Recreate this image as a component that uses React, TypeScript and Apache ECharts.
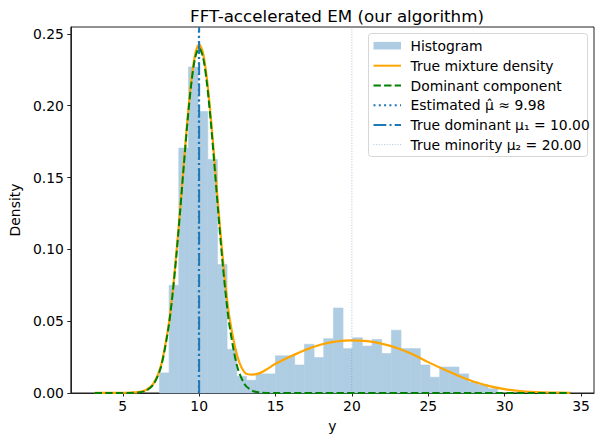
import React, { useEffect, useRef } from "react";
import * as echarts from "echarts";

// ---- Data ----
const binLeft = [7.402, 8.035, 8.667, 9.3, 9.932, 10.565, 11.198, 11.83, 12.463, 13.095, 13.728, 14.361, 14.993, 15.626, 16.258, 16.891, 17.524, 18.156, 18.789, 19.421, 20.054, 20.687, 21.319, 21.952, 22.584, 23.217, 23.85, 24.482, 25.115, 25.747, 26.38, 27.013, 27.645, 28.278, 28.91];
const binRight = [8.035, 8.667, 9.3, 9.932, 10.565, 11.198, 11.83, 12.463, 13.095, 13.728, 14.361, 14.993, 15.626, 16.258, 16.891, 17.524, 18.156, 18.789, 19.421, 20.054, 20.687, 21.319, 21.952, 22.584, 23.217, 23.85, 24.482, 25.115, 25.747, 26.38, 27.013, 27.645, 28.278, 28.91, 29.543];
const binDensity = [0.014, 0.075, 0.1705, 0.227, 0.196, 0.1626, 0.0895, 0.0304, 0.0117, 0.0089, 0.0133, 0.0133, 0.0259, 0.0259, 0.0195, 0.0339, 0.0247, 0.0378, 0.0592, 0.0309, 0.0385, 0.0327, 0.0373, 0.0275, 0.0437, 0.0309, 0.0309, 0.0195, 0.011, 0.0181, 0.0181, 0.0133, 0.0076, 0.0057, 0.003];

const mixX = [3.16, 4, 5, 6, 6.5, 7, 7.5, 8, 8.25, 8.5, 8.75, 9, 9.25, 9.5, 9.75, 10, 10.25, 10.5, 10.75, 11, 11.25, 11.5, 11.75, 12, 12.5, 13, 13.5, 14, 14.5, 15, 16, 17, 18, 19, 20, 21, 22, 23, 24, 25, 26, 27, 28, 29, 30, 31, 32, 33, 34.3];
const mixY = [0.00002, 0.00005, 0.00014, 0.0006, 0.0019, 0.0064, 0.0189, 0.047, 0.0689, 0.0961, 0.1274, 0.1606, 0.1922, 0.2187, 0.2363, 0.2427, 0.2369, 0.2197, 0.1937, 0.1627, 0.1301, 0.0994, 0.0728, 0.0516, 0.0256, 0.014, 0.0128, 0.014, 0.017, 0.0203, 0.0255, 0.0302, 0.0338, 0.036, 0.0367, 0.0361, 0.0342, 0.0312, 0.0268, 0.0215, 0.0165, 0.0118, 0.0078, 0.0048, 0.0027, 0.0014, 0.0007, 0.0003, 0.0001];

const domX = [3.16, 5, 5.5, 6, 6.5, 7, 7.5, 8, 8.25, 8.5, 8.75, 9, 9.25, 9.5, 9.75, 10, 10.25, 10.5, 10.75, 11, 11.25, 11.5, 11.75, 12, 12.5, 13, 13.5, 14, 14.5, 15, 34.3];
const domY = [0, 0, 0.00006, 0.00032, 0.0015, 0.0058, 0.0181, 0.046, 0.0677, 0.0947, 0.1258, 0.1588, 0.1902, 0.2165, 0.2339, 0.24, 0.2339, 0.2165, 0.1902, 0.1588, 0.1258, 0.0947, 0.0677, 0.046, 0.0181, 0.0058, 0.0015, 0.0003, 0.00006, 0, 0];

const muHat = 9.98;
const mu1 = 10.0;
const mu2 = 20.0;

const xTicks = [5, 10, 15, 20, 25, 30, 35];
const yTicks = [0, 0.05, 0.1, 0.15, 0.2, 0.25];
const xRange = [1.6, 35.85];
const yRange = [0, 0.2548];

const legendLabels = [
  "Histogram",
  "True mixture density",
  "Dominant component",
  "Estimated \u03bc\u0302 \u2248 9.98",
  "True dominant \u03bc\u2081 = 10.00",
  "True minority \u03bc\u2082 = 20.00",
];

const FONT = "DejaVu Sans";
const BLUE = "#1f77b4";
const HIST = "#aecde3";

export default function App() {
  const ref = useRef<HTMLDivElement>(null);
  useEffect(() => {
    if (!ref.current) return;
    const chart = echarts.init(ref.current, null, { renderer: "svg" });
    const histData = binLeft.map((l, i) => [l, binRight[i], binDensity[i]]);
    const vline = (x: number) => [[x, yRange[0]], [x, yRange[1]]];

    const rowY = [45.7, 65.7, 85.5, 105.2, 125, 144.6];
    const hx1 = 373.5, hx2 = 401, tx = 410.5;
    const handles: any[] = [
      { type: "rect", shape: { x: hx1, y: rowY[0] - 3.8, width: hx2 - hx1, height: 7.6 }, style: { fill: HIST } },
      { type: "line", shape: { x1: hx1, y1: rowY[1], x2: hx2, y2: rowY[1] }, style: { stroke: "#ffa500", lineWidth: 2 } },
      { type: "line", shape: { x1: hx1, y1: rowY[2], x2: hx2, y2: rowY[2] }, style: { stroke: "#008000", lineWidth: 2, lineDash: [7.4, 3.2] } },
      { type: "line", shape: { x1: hx1, y1: rowY[3], x2: hx2, y2: rowY[3] }, style: { stroke: BLUE, lineWidth: 2, lineDash: [2, 3.3] } },
      { type: "line", shape: { x1: hx1, y1: rowY[4], x2: hx2, y2: rowY[4] }, style: { stroke: BLUE, lineWidth: 2, lineDash: [12.8, 3.2, 2, 3.2] } },
      { type: "line", shape: { x1: hx1, y1: rowY[5], x2: hx2, y2: rowY[5] }, style: { stroke: BLUE, opacity: 0.4, lineWidth: 1, lineDash: [1, 1.65] } },
    ];
    const texts = legendLabels.map((t, i) => ({
      type: "text",
      x: tx,
      y: rowY[i],
      style: { text: t, fontFamily: FONT, fontSize: 13.9, fill: "#000", verticalAlign: "middle", textAlign: "left" },
    }));

    chart.setOption({
      animation: false,
      backgroundColor: "#fff",
      title: {
        text: "FFT-accelerated EM (our algorithm)",
        left: 332,
        textAlign: "center",
        top: 2,
        textStyle: { fontFamily: FONT, fontSize: 16.7, fontWeight: "normal", color: "#000" },
      },
      grid: { left: 70, right: 7, top: 27, bottom: 43, show: true, borderColor: "#222", borderWidth: 1, backgroundColor: "transparent" },
      xAxis: {
        type: "value",
        min: xRange[0],
        max: xRange[1],
        name: "y",
        nameLocation: "middle",
        nameGap: 26,
        nameTextStyle: { fontFamily: FONT, fontSize: 13.9, color: "#000" },
        axisLine: { show: true, onZero: false, lineStyle: { color: "#222", width: 1 } },
        axisTick: { show: true, length: 3.5, customValues: xTicks, lineStyle: { color: "#222" } },
        axisLabel: { customValues: xTicks, margin: 6, fontFamily: FONT, fontSize: 13.9, color: "#000" },
        splitLine: { show: false },
      },
      yAxis: {
        type: "value",
        min: yRange[0],
        max: yRange[1],
        name: "Density",
        nameLocation: "middle",
        nameGap: 45,
        nameTextStyle: { fontFamily: FONT, fontSize: 13.9, color: "#000" },
        axisLine: { show: true, lineStyle: { color: "#222", width: 1 } },
        axisTick: { show: true, length: 3.5, customValues: yTicks, lineStyle: { color: "#222" } },
        axisLabel: { customValues: yTicks, margin: 7, fontFamily: FONT, fontSize: 13.9, color: "#000", formatter: (v: number) => v.toFixed(2) },
        splitLine: { show: false },
      },
      series: [
        {
          type: "custom",
          name: "Histogram",
          data: histData,
          encode: { x: [0, 1], y: 2 },
          renderItem: (params: any, api: any) => {
            const p0 = api.coord([api.value(0), api.value(2)]);
            const p1 = api.coord([api.value(1), 0]);
            return {
              type: "rect",
              shape: { x: p0[0], y: p0[1], width: p1[0] - p0[0], height: p1[1] - p0[1] },
              style: { fill: HIST, stroke: HIST, lineWidth: 0.6 },
            };
          },
          z: 1,
        },
        {
          type: "line",
          name: "True mixture density",
          data: mixX.map((x, i) => [x, mixY[i]]),
          smooth: 0.3,
          showSymbol: false,
          lineStyle: { color: "#ffa500", width: 2.2 },
          z: 2,
        },
        {
          type: "line",
          name: "Dominant component",
          data: domX.map((x, i) => [x, domY[i]]),
          smooth: 0.3,
          showSymbol: false,
          lineStyle: { color: "#008000", width: 2, type: [7.4, 3.2] },
          z: 3,
        },
        {
          type: "line",
          name: "Estimated",
          data: vline(muHat),
          showSymbol: false,
          lineStyle: { color: BLUE, width: 2, type: [2, 3.3] },
          z: 4,
        },
        {
          type: "line",
          name: "True dominant",
          data: vline(mu1),
          showSymbol: false,
          lineStyle: { color: BLUE, width: 2, type: [12.8, 3.2, 2, 3.2] },
          z: 5,
        },
        {
          type: "line",
          name: "True minority",
          data: vline(mu2),
          showSymbol: false,
          lineStyle: { color: BLUE, width: 1, opacity: 0.4, type: [1, 1.65] },
          z: 5,
        },
      ],
      graphic: [
        {
          type: "rect",
          shape: { x: 368.5, y: 33.5, width: 219, height: 123, r: 3 },
          style: { fill: "rgba(255,255,255,0.8)", stroke: "#d6d6d6", lineWidth: 1 },
          z: 100,
        },
        ...handles.map((h) => ({ ...h, z: 101 })),
        ...texts.map((t) => ({ ...t, z: 101 })),
      ],
    });
    return () => chart.dispose();
  }, []);
  return <div ref={ref} style={{ position: "fixed", left: 0, top: 0, width: 601, height: 438 }} />;
}
